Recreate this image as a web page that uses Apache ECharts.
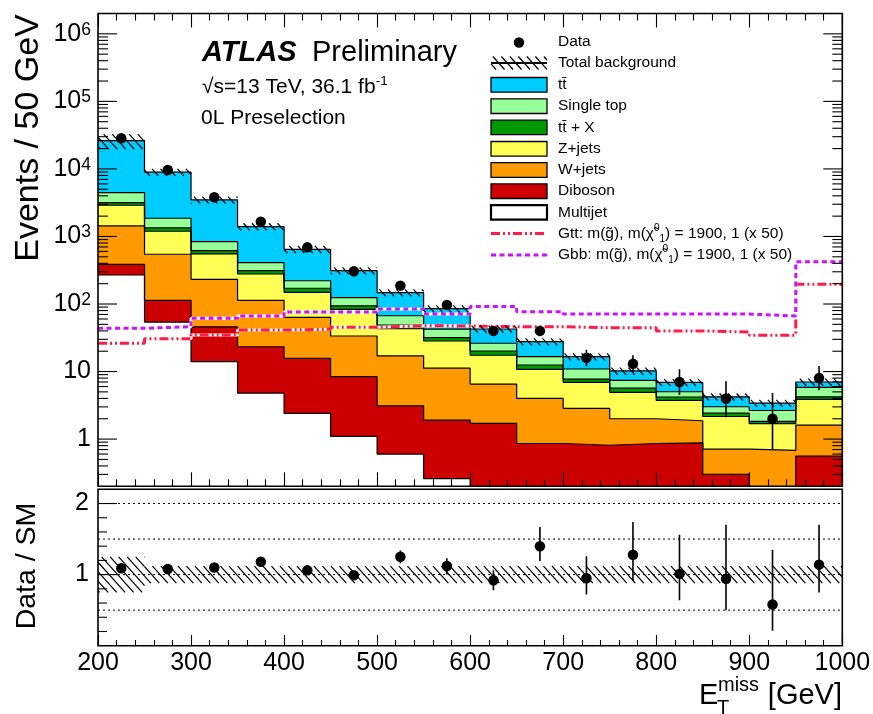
<!DOCTYPE html>
<html>
<head>
<meta charset="utf-8">
<title>0L preselection - missing transverse momentum</title>
<script src="https://cdn.jsdelivr.net/npm/echarts@6/dist/echarts.min.js"></script>
<style>
  html, body { margin: 0; padding: 0; background: #ffffff; }
  #chart { width: 873px; height: 714px; }
</style>
</head>
<body>
<div id="chart"></div>
<script>
// ---- binning (GeV) ----
const binEdges   = [200, 250, 300, 350, 400, 450, 500, 550, 600, 650, 700, 750, 800, 850, 900, 950, 1000];
const binCentres = [225, 275, 325, 375, 425, 475, 525, 575, 625, 675, 725, 775, 825, 875, 925, 975];

// ---- background components, events / 50 GeV (stacked bottom -> top) ----
const multijet  = [269, 54, 14, 4.8, 2.4, 1.1, 0.6, 0.26, 0.02, 0.02, 0.02, 0.02, 0.02, 0.02, 0.02, 0.02];
const diboson   = [118, 59, 32, 18.5, 13.3, 7.3, 2.5, 1.65, 1.69, 0.84, 0.79, 0.84, 0.86, 0.28, 0.1, 0.54];
const wjets     = [1043, 432, 186, 90, 47.8, 25.2, 14.0, 9.3, 4.82, 3.14, 2.04, 1.14, 0.99, 0.41, 0.56, 1.05];
const zjets     = [1470, 649, 319, 165, 85.5, 49.4, 25.9, 17.1, 10.9, 6.8, 4.07, 2.92, 1.88, 1.45, 1.01, 2.26];
const ttbarX    = [270, 142, 65, 34, 22, 11, 5.9, 3.4, 2.7, 1.7, 0.82, 0.78, 0.45, 0.26, 0.14, 0.36];
const singleTop = [1290, 526, 221, 97, 50, 30, 18.1, 10.9, 6.1, 4.1, 3.16, 1.7, 0.82, 0.59, 0.82, 1.6];
const ttbar     = [21740, 7078, 2637, 990, 425, 188, 80, 42.6, 16.4, 11.1, 5.7, 2.8, 1.88, 1.22, 0.75, 1.17];

// relative uncertainty on the total background
const bkgUncertainty = [0.25, 0.12, 0.12, 0.12, 0.12, 0.12, 0.12, 0.12, 0.12, 0.12, 0.12, 0.12, 0.12, 0.12, 0.12, 0.12];

// ---- observed data ----
const dataCounts = [28500, 9660, 3800, 1650, 690, 305, 187, 97, 40, 40, 16, 13, 7, 4, 2, 8];
const dataLow    = [28330, 9560, 3740, 1610, 664, 288, 173, 87, 34, 34, 12, 9.6, 4.5, 2.1, 0.7, 5.3];
const dataHigh   = [28670, 9760, 3860, 1690, 716, 322, 201, 107, 47, 47, 21, 17.5, 10.8, 7.2, 4.8, 12.1];

// ---- signal benchmarks (scaled x 50) ----
const gttX50 = [26.2, 30.6, 34.7, 41.2, 42.2, 45.2, 47.7, 47.2, 46.1, 46.0, 44.6, 44.6, 40.0, 38.5, 34.6, 196];
const gbbX50 = [43.7, 46.1, 61.4, 66.4, 76, 76, 84, 71, 92, 77, 71, 71, 71, 71, 66.4, 423];

// ---- Data / SM ----
const ratio     = [1.09, 1.08, 1.10, 1.18, 1.06, 0.99, 1.25, 1.12, 0.92, 1.40, 0.95, 1.28, 1.01, 0.94, 0.58, 1.14];
const ratioLow  = [1.08, 1.07, 1.08, 1.15, 1.02, 0.93, 1.16, 1.00, 0.78, 1.19, 0.72, 0.91, 0.64, 0.50, 0.21, 0.75];
const ratioHigh = [1.10, 1.09, 1.12, 1.21, 1.10, 1.05, 1.34, 1.23, 1.06, 1.67, 1.26, 1.74, 1.56, 1.70, 1.35, 1.70];
const ratioGuides = [0.5, 1, 1.5, 2];

// ---- axis ticks ----
const xTickLabels = [200, 300, 400, 500, 600, 700, 800, 900, 1000];
const logDecades  = [-1, 0, 1, 2, 3, 4, 5, 6];
const ratioTicks  = [0.2, 0.4, 0.6, 0.8, 1.0, 1.2, 1.4, 1.6, 1.8, 2.0];
const ratioMajor  = [1.0, 2.0];

const Y_MIN = 0.2, Y_MAX = 2e6;
const FONT = '"Liberation Sans", Arial, Helvetica, sans-serif';

// layout of the two pads
const PAD_LEFT = 98, PAD_W = 744.3;
const MAIN_TOP = 13.5, MAIN_H = 472.8;
const RATIO_TOP = 489.3, RATIO_H = 156.4;

// stack in drawing order (bottom -> top)
const stackDefs = [
  { name: 'Multijet',   values: multijet,  color: '#ffffff' },
  { name: 'Diboson',    values: diboson,   color: '#cc0000' },
  { name: 'W+jets',     values: wjets,     color: '#ff9900' },
  { name: 'Z+jets',     values: zjets,     color: '#ffff55' },
  { name: 'tt\u0304 + X',    values: ttbarX,    color: '#009900' },
  { name: 'Single top', values: singleTop, color: '#99ff99' },
  { name: 'tt\u0304',        values: ttbar,     color: '#00ccff' }
];

// cumulative sums for the stacked histogram
const cumulative = [];
stackDefs.forEach(function (d, k) {
  cumulative.push(d.values.map(function (v, i) { return (k ? cumulative[k - 1][i] : 0) + v; }));
});
const totalBkg = cumulative[cumulative.length - 1];

// histogram contents -> step polyline points
function stepPoints(values) {
  return binEdges.map(function (e, i) { return [e, values[Math.min(i, values.length - 1)]]; });
}

// diagonal hatching clipped to a rectangle (pixel coords)
const HATCH_GAP = 8.5, HATCH_SLOPE = 0.9, HATCH_WIDTH = 1.25;
function hatchSegments(xa, ya, xb, yb) {
  const x0 = Math.min(xa, xb), x1 = Math.max(xa, xb);
  const y0 = Math.min(ya, yb), y1 = Math.max(ya, yb);
  const m = HATCH_SLOPE, out = [];
  const cMin = x0 - m * y1, cMax = x1 - m * y0;
  for (let k = Math.ceil(cMin / HATCH_GAP); k * HATCH_GAP <= cMax; k++) {
    const c = k * HATCH_GAP;
    const ys = Math.max(y0, (x0 - c) / m), ye = Math.min(y1, (x1 - c) / m);
    if (ye - ys > 0.3) out.push([c + m * ys, ys, c + m * ye, ye]);
  }
  return out;
}
function hatchGroup(segs) {
  return {
    type: 'group',
    children: segs.map(function (s) {
      return { type: 'line', shape: { x1: s[0], y1: s[1], x2: s[2], y2: s[3] },
               style: { stroke: '#000', lineWidth: HATCH_WIDTH } };
    })
  };
}
function renderHatchBand(params, api) {
  const p0 = api.coord([api.value(0), api.value(3)]);
  const p1 = api.coord([api.value(1), api.value(2)]);
  return hatchGroup(hatchSegments(p0[0], p0[1], p1[0], p1[1]));
}
function renderErrorBar(params, api) {
  const a = api.coord([api.value(0), api.value(1)]);
  const b = api.coord([api.value(0), api.value(2)]);
  return { type: 'line', shape: { x1: a[0], y1: a[1], x2: b[0], y2: b[1] },
           style: { stroke: '#000', lineWidth: 1.6 } };
}
function makeTickRenderer(xLeft, xRight, majorLen, minorLen) {
  return function (params, api) {
    const v = api.value(1), major = api.value(2) === 1;
    const len = major ? majorLen : minorLen;
    const kids = [];
    const pl = api.coord([xLeft, v]);
    kids.push({ type: 'line', shape: { x1: pl[0], y1: pl[1], x2: pl[0] + len, y2: pl[1] },
                style: { stroke: '#000', lineWidth: 1.1 } });
    if (xRight !== null) {
      const pr = api.coord([xRight, v]);
      kids.push({ type: 'line', shape: { x1: pr[0] - len, y1: pr[1], x2: pr[0], y2: pr[1] },
                  style: { stroke: '#000', lineWidth: 1.1 } });
    }
    return { type: 'group', children: kids };
  };
}

// tick positions on the log axis: 1..9 x 10^n inside the range
const logTickData = [];
logDecades.forEach(function (e) {
  for (let k = 1; k <= 9; k++) {
    const v = k * Math.pow(10, e);
    if (v > Y_MIN * 1.0001 && v < Y_MAX * 0.9999) logTickData.push([200, v, k === 1 ? 1 : 0]);
  }
});
const ratioTickData = ratioTicks.map(function (v) { return [200, v, ratioMajor.indexOf(v) >= 0 ? 1 : 0]; });

const series = [];

// stacked background: each cumulative layer filled down to the axis floor
for (let k = stackDefs.length - 1; k >= 0; k--) {
  series.push({
    name: stackDefs[k].name, type: 'line', xAxisIndex: 0, yAxisIndex: 0,
    data: stepPoints(cumulative[k]), step: 'end', symbol: 'none', showSymbol: false,
    lineStyle: { color: '#000', width: 1.2 },
    areaStyle: { color: stackDefs[k].color, opacity: 1, origin: 'start' },
    z: 2, silent: true
  });
}

// signal benchmarks (white underlay makes the dash gaps white)
[[gttX50, '#ff1a48', [9, 3, 2, 3, 2, 3]], [gbbX50, '#cc11ff', [5, 3.5]]].forEach(function (s) {
  series.push({
    type: 'line', xAxisIndex: 0, yAxisIndex: 0, data: stepPoints(s[0]), step: 'end',
    symbol: 'none', showSymbol: false, lineStyle: { color: '#ffffff', width: 3 }, z: 3, silent: true
  });
  series.push({
    type: 'line', xAxisIndex: 0, yAxisIndex: 0, data: stepPoints(s[0]), step: 'end',
    symbol: 'none', showSymbol: false,
    lineStyle: { color: s[1], width: 3, type: s[2], cap: 'butt' }, z: 3, silent: true
  });
});

// total background uncertainty band
series.push({
  type: 'custom', xAxisIndex: 0, yAxisIndex: 0, clip: true, z: 4, silent: true,
  encode: { x: [0, 1], y: [2, 3] },
  data: totalBkg.map(function (t, i) {
    return [binEdges[i], binEdges[i + 1], t * (1 - bkgUncertainty[i]), t * (1 + bkgUncertainty[i])];
  }),
  renderItem: renderHatchBand
});

// data
series.push({
  type: 'custom', xAxisIndex: 0, yAxisIndex: 0, clip: true, z: 5, silent: true,
  encode: { x: 0, y: [1, 2] },
  data: binCentres.map(function (c, i) { return [c, dataLow[i], dataHigh[i]]; }),
  renderItem: renderErrorBar
});
series.push({
  name: 'Data', type: 'scatter', xAxisIndex: 0, yAxisIndex: 0, symbol: 'circle', symbolSize: 10.5,
  itemStyle: { color: '#000', opacity: 1 }, z: 6, silent: true,
  data: binCentres.map(function (c, i) { return [c, dataCounts[i]]; })
});

// log-axis ticks (left and right, inside the frame)
series.push({
  type: 'custom', xAxisIndex: 0, yAxisIndex: 0, clip: false, z: 7, silent: true,
  encode: { x: 0, y: 1 }, data: logTickData, renderItem: makeTickRenderer(200, 1000, 19, 10)
});

// ---- ratio pad ----
series.push({
  type: 'custom', xAxisIndex: 2, yAxisIndex: 1, clip: true, z: 2, silent: true,
  encode: { x: 0, y: 1 },
  data: ratioGuides.map(function (g) { return [200, g]; }),
  renderItem: function (params, api) {
    const a = api.coord([200, api.value(1)]), b = api.coord([1000, api.value(1)]);
    return { type: 'line', shape: { x1: a[0], y1: a[1], x2: b[0], y2: b[1] },
             style: { stroke: '#000', lineWidth: 1, lineDash: [2, 3] } };
  }
});
series.push({
  type: 'custom', xAxisIndex: 2, yAxisIndex: 1, clip: true, z: 4, silent: true,
  encode: { x: [0, 1], y: [2, 3] },
  data: bkgUncertainty.map(function (u, i) { return [binEdges[i], binEdges[i + 1], 1 - u, 1 + u]; }),
  renderItem: renderHatchBand
});
series.push({
  type: 'custom', xAxisIndex: 2, yAxisIndex: 1, clip: true, z: 5, silent: true,
  encode: { x: 0, y: [1, 2] },
  data: binCentres.map(function (c, i) { return [c, ratioLow[i], ratioHigh[i]]; }),
  renderItem: renderErrorBar
});
series.push({
  type: 'scatter', xAxisIndex: 2, yAxisIndex: 1, symbol: 'circle', symbolSize: 10.5,
  itemStyle: { color: '#000', opacity: 1 }, z: 6, silent: true,
  data: binCentres.map(function (c, i) { return [c, ratio[i]]; })
});
series.push({
  type: 'custom', xAxisIndex: 2, yAxisIndex: 1, clip: false, z: 7, silent: true,
  encode: { x: 0, y: 1 }, data: ratioTickData, renderItem: makeTickRenderer(200, null, 19, 9)
});

// ---- legend and annotations ----
const LEG_X = 491, LEG_W = 56, LEG_TEXT_X = 558, LEG_FS = 15.5;
const legendRows = [41.5, 63, 84.8, 106.2, 127.4, 148.8, 170, 191.2, 212.4, 233.5, 255];
const graphics = [];
function legendText(y, text, rich) {
  graphics.push({ type: 'text', x: LEG_TEXT_X, y: y, z: 101, silent: true,
    style: { text: text, fill: '#000', fontSize: LEG_FS, fontFamily: FONT,
             verticalAlign: 'middle', align: 'left', rich: rich || {} } });
}
// Data
graphics.push({ type: 'circle', shape: { cx: 519, cy: legendRows[0] + 1, r: 5.2 }, style: { fill: '#000' }, z: 101, silent: true });
legendText(legendRows[0], 'Data');
// Total background
(function () {
  const y = legendRows[1];
  const segs = hatchSegments(LEG_X, y - 6.5, LEG_X + LEG_W, y + 6.5);
  segs.forEach(function (s) {
    graphics.push({ type: 'line', shape: { x1: s[0], y1: s[1], x2: s[2], y2: s[3] },
                    style: { stroke: '#000', lineWidth: HATCH_WIDTH }, z: 101, silent: true });
  });
  graphics.push({ type: 'line', shape: { x1: LEG_X, y1: y, x2: LEG_X + LEG_W, y2: y },
                  style: { stroke: '#000', lineWidth: 1.8 }, z: 101, silent: true });
  legendText(y, 'Total background');
})();
// stacked components (top of stack listed first)
for (let k = stackDefs.length - 1, row = 2; k >= 0; k--, row++) {
  const d = stackDefs[k], y = legendRows[row];
  graphics.push({ type: 'rect', shape: { x: LEG_X, y: y - 7.3, width: LEG_W, height: 14.6 },
                  style: { fill: d.color, stroke: '#000', lineWidth: d.name === 'Multijet' ? 2.2 : 1.3 },
                  z: 101, silent: true });
  legendText(y, d.name);
}
const susyRich = {
  sup: { fontSize: 10, fontFamily: FONT, fill: '#000', padding: [0, 0, 11, 0] },
  sub: { fontSize: 10, fontFamily: FONT, fill: '#000', padding: [11, 0, 0, 0] }
};
[[legendRows[9], '#ff1a48', [9, 3, 2, 3, 2, 3], 'Gtt: m(g\u0303), m(\u03C7\u0303{sup|0}{sub|1}) = 1900, 1 (x 50)'],
 [legendRows[10], '#cc11ff', [5, 3.5], 'Gbb: m(g\u0303), m(\u03C7\u0303{sup|0}{sub|1}) = 1900, 1 (x 50)']].forEach(function (s) {
  graphics.push({ type: 'line', shape: { x1: LEG_X, y1: s[0], x2: LEG_X + LEG_W, y2: s[0] },
                  style: { stroke: s[1], lineWidth: 3, lineDash: s[2] }, z: 101, silent: true });
  legendText(s[0], s[3], susyRich);
});

// ATLAS label block
graphics.push({ type: 'text', x: 202, y: 52.5, z: 101, silent: true,
  style: { text: 'ATLAS', fill: '#000', fontSize: 29, fontWeight: 'bold', fontStyle: 'italic',
           fontFamily: FONT, verticalAlign: 'middle' } });
graphics.push({ type: 'text', x: 312, y: 52.5, z: 101, silent: true,
  style: { text: 'Preliminary', fill: '#000', fontSize: 29, fontFamily: FONT, verticalAlign: 'middle' } });
graphics.push({ type: 'text', x: 202, y: 87.5, z: 101, silent: true,
  style: { text: '\u221As=13 TeV, 36.1 fb{sup|-1}', fill: '#000', fontSize: 21, fontFamily: FONT,
           verticalAlign: 'middle',
           rich: { sup: { fontSize: 13.5, fontFamily: FONT, fill: '#000', padding: [0, 0, 12, 0] } } } });
graphics.push({ type: 'text', x: 201, y: 118.5, z: 101, silent: true,
  style: { text: '0L Preselection', fill: '#000', fontSize: 21, fontFamily: FONT, verticalAlign: 'middle' } });

// axis titles
graphics.push({ type: 'text', x: 29, y: 138, rotation: Math.PI / 2, z: 101, silent: true,
  style: { text: 'Events / 50 GeV', fill: '#000', fontSize: 34, fontFamily: FONT,
           align: 'center', verticalAlign: 'middle' } });
graphics.push({ type: 'text', x: 27, y: 566, rotation: Math.PI / 2, z: 101, silent: true,
  style: { text: 'Data / SM', fill: '#000', fontSize: 28.5, fontFamily: FONT,
           align: 'center', verticalAlign: 'middle' } });
graphics.push({ type: 'text', x: 699, y: 695.5, z: 101, silent: true,
  style: { text: 'E', fill: '#000', fontSize: 29, fontFamily: FONT, verticalAlign: 'middle' } });
graphics.push({ type: 'text', x: 718, y: 685, z: 101, silent: true,
  style: { text: 'miss', fill: '#000', fontSize: 20, fontFamily: FONT, verticalAlign: 'middle' } });
graphics.push({ type: 'text', x: 717, y: 708.5, z: 101, silent: true,
  style: { text: 'T', fill: '#000', fontSize: 20, fontFamily: FONT, verticalAlign: 'middle' } });
graphics.push({ type: 'text', x: 842, y: 695.5, z: 101, silent: true,
  style: { text: '[GeV]', fill: '#000', fontSize: 29, fontFamily: FONT, align: 'right', verticalAlign: 'middle' } });

// pad frames drawn over the fills
graphics.push({ type: 'rect', shape: { x: PAD_LEFT, y: MAIN_TOP, width: PAD_W, height: MAIN_H },
                style: { fill: 'none', stroke: '#000', lineWidth: 1.6 }, z: 102, silent: true });
graphics.push({ type: 'rect', shape: { x: PAD_LEFT, y: RATIO_TOP, width: PAD_W, height: RATIO_H },
                style: { fill: 'none', stroke: '#000', lineWidth: 1.6 }, z: 102, silent: true });

function xAxisDef(gridIndex, position, tickLen, minorLen, showLabels) {
  return {
    type: 'value', gridIndex: gridIndex, position: position, min: 200, max: 1000, interval: 100,
    z: 8, axisLine: { show: false }, splitLine: { show: false },
    axisTick: { show: true, inside: true, length: tickLen, lineStyle: { color: '#000', width: 1.1 } },
    minorTick: { show: true, splitNumber: 5, length: minorLen, lineStyle: { color: '#000', width: 1.1 } },
    axisLabel: {
      show: showLabels, color: '#000', fontSize: 25, fontFamily: FONT, margin: 5,
      showMinLabel: true, showMaxLabel: true,
      formatter: function (v) { return xTickLabels.indexOf(v) >= 0 ? String(v) : ''; }
    }
  };
}

const option = {
  animation: false,
  backgroundColor: '#ffffff',
  textStyle: { fontFamily: FONT },
  grid: [
    { left: PAD_LEFT, top: MAIN_TOP, width: PAD_W, height: MAIN_H, show: false, containLabel: false, outerBoundsMode: 'none' },
    { left: PAD_LEFT, top: RATIO_TOP, width: PAD_W, height: RATIO_H, show: false, containLabel: false, outerBoundsMode: 'none' }
  ],
  xAxis: [
    xAxisDef(0, 'bottom', 14, 7, false),
    xAxisDef(0, 'top', 14, 7, false),
    xAxisDef(1, 'bottom', 10.7, 5.7, true)
  ],
  yAxis: [
    {
      type: 'log', logBase: 10, gridIndex: 0, min: Y_MIN, max: Y_MAX, z: 8,
      axisLine: { show: false }, axisTick: { show: false }, splitLine: { show: false },
      axisLabel: {
        color: '#000', fontSize: 25, fontFamily: FONT, margin: 7,
        formatter: function (v) {
          const l = Math.log10(v), e = Math.round(l);
          if (Math.abs(l - e) > 1e-6 || logDecades.indexOf(e) < 0 || e < 0) return '';
          if (e === 0) return '1';
          if (e === 1) return '10';
          return '{b|10}{s|' + e + '}';
        },
        rich: {
          b: { fontSize: 25, fontFamily: FONT, color: '#000' },
          s: { fontSize: 17.5, fontFamily: FONT, color: '#000', padding: [0, 0, 8, 0] }
        }
      }
    },
    {
      type: 'value', gridIndex: 1, min: 0, max: 2.2, interval: 1, z: 8,
      axisLine: { show: false }, axisTick: { show: false }, splitLine: { show: false },
      axisLabel: {
        color: '#000', fontSize: 25, fontFamily: FONT, margin: 9,
        formatter: function (v) { return ratioMajor.indexOf(v) >= 0 ? String(v) : ''; }
      }
    }
  ],
  series: series,
  graphic: { elements: graphics }
};

const chart = echarts.init(document.getElementById('chart'), null, { renderer: 'canvas' });
chart.setOption(option);
</script>
</body>
</html>
